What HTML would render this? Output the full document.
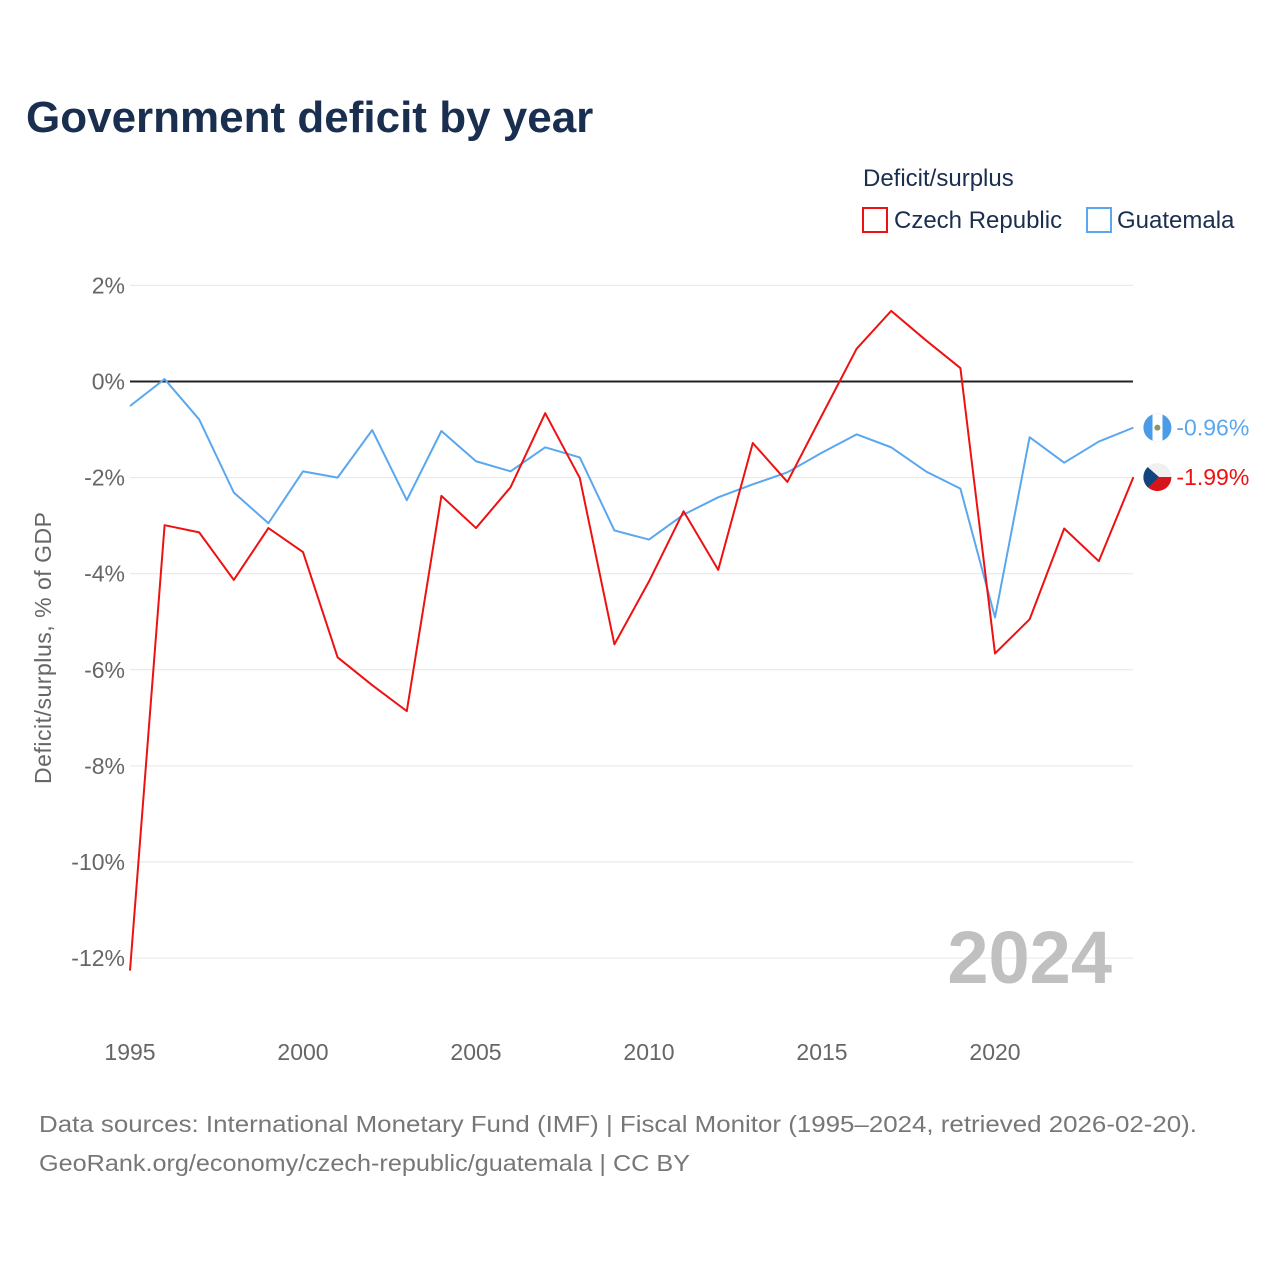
<!DOCTYPE html>
<html><head><meta charset="utf-8"><style>
body{margin:0;background:#fff;font-family:"Liberation Sans",sans-serif;}
#wrap{position:relative;width:1280px;height:1280px;overflow:hidden;}
</style></head><body>
<div id="wrap">
<svg id="chart" width="1280" height="1280">
<defs>
<clipPath id="clipG"><circle cx="1157.4" cy="427.6" r="14"/></clipPath>
<clipPath id="clipC"><circle cx="1157.4" cy="477.1" r="14"/></clipPath>
</defs>
<text x="26" y="132" font-size="44" font-weight="bold" fill="#1a2e4f">Government deficit by year</text>
<text x="863" y="186" font-size="24" fill="#1a2e4f">Deficit/surplus</text>
<g><rect x="863" y="208" width="24" height="24" fill="none" stroke="#ee1111" stroke-width="2"/><text x="894" y="228" font-size="24" fill="#1a2e4f">Czech Republic</text></g>
<g><rect x="1087" y="208" width="24" height="24" fill="none" stroke="#5aa7ee" stroke-width="2"/><text x="1117" y="228" font-size="24" fill="#1a2e4f">Guatemala</text></g>
<g id="grid"></g><g id="yticks"></g><g id="xticks"></g>
<text x="1112" y="983" text-anchor="end" font-size="74" font-weight="bold" fill="#c0c0c0">2024</text>
<text transform="translate(51,648) rotate(-90)" text-anchor="middle" font-size="23" fill="#666" textLength="272">Deficit/surplus, % of GDP</text>
<g id="series"></g>
<g clip-path="url(#clipG)">
<rect x="1143" y="413" width="29" height="29" fill="#4a9be8"/><rect x="1152.5" y="413" width="10" height="29" fill="#fff"/><circle cx="1157.4" cy="427.6" r="3" fill="#8a9a5b"/>
</g>
<g clip-path="url(#clipC)">
<rect x="1143" y="463" width="29" height="14" fill="#f0f0f0"/><rect x="1143" y="477" width="29" height="15" fill="#d7141a"/><polygon points="1143,463 1159,477 1143,492" fill="#11457e"/>
</g>
<text x="39" y="1132" font-size="23" fill="#777" textLength="1158" lengthAdjust="spacingAndGlyphs">Data sources: International Monetary Fund (IMF) | Fiscal Monitor (1995–2024, retrieved 2026-02-20).</text>
<text x="39" y="1171" font-size="23" fill="#777" textLength="651" lengthAdjust="spacingAndGlyphs">GeoRank.org/economy/czech-republic/guatemala | CC BY</text>
</svg>
</div>
<script>
const years=[1995,1996,1997,1998,1999,2000,2001,2002,2003,2004,2005,2006,2007,2008,2009,2010,2011,2012,2013,2014,2015,2016,2017,2018,2019,2020,2021,2022,2023,2024];
const czech=[-12.26,-2.99,-3.14,-4.13,-3.05,-3.55,-5.74,-6.32,-6.86,-2.38,-3.05,-2.2,-0.66,-2.01,-5.47,-4.16,-2.7,-3.92,-1.28,-2.09,-0.7,0.68,1.47,0.86,0.28,-5.66,-4.95,-3.06,-3.74,-1.99];
const guatemala=[-0.51,0.05,-0.79,-2.31,-2.95,-1.87,-2.0,-1.01,-2.47,-1.03,-1.66,-1.87,-1.37,-1.58,-3.1,-3.29,-2.77,-2.41,-2.14,-1.89,-1.48,-1.1,-1.37,-1.87,-2.23,-4.91,-1.16,-1.69,-1.25,-0.96];
const yTicks=[2,0,-2,-4,-6,-8,-10,-12];
const xTicks=[1995,2000,2005,2010,2015,2020];
const NS="http://www.w3.org/2000/svg";
const X=y=>130+(y-1995)*34.6;
const Y=v=>381.5-v*48.05;
function mk(t,a,p){const e=document.createElementNS(NS,t);for(const k in a)e.setAttribute(k,a[k]);p.appendChild(e);return e;}
const grid=document.getElementById('grid'),yt=document.getElementById('yticks'),xt=document.getElementById('xticks'),ser=document.getElementById('series');
yTicks.forEach(v=>{
 const l=mk('line',{x1:130,x2:1133,y1:Y(v),y2:Y(v),stroke:v===0?'#222':'#e6e6e6','stroke-width':v===0?2:1},grid);
 
 
 const t=mk('text',{x:125,y:Y(v)+8,'text-anchor':'end','font-size':23,fill:'#666'},yt);
 t.textContent=v+'%';
 
 
});
xTicks.forEach(y=>{
 const t=mk('text',{x:X(y),y:1060,'text-anchor':'middle','font-size':23,fill:'#666'},xt);
 t.textContent=y;
 
 
});
function line(vals,col,name){
 const p=mk('polyline',{points:vals.map((v,i)=>X(years[i])+','+Y(v)).join(' '),fill:'none',stroke:col,'stroke-width':2,'stroke-linejoin':'round'},ser);
 
 
 const last=vals[vals.length-1],lx=X(years[years.length-1]);
 const t=mk('text',{x:lx+43,y:Y(last)+8,'font-size':23,fill:col},ser);
 t.textContent=last.toFixed(2)+'%';
 
 
}
line(guatemala,'#5aa7ee','guatemala-line');
line(czech,'#ee1111','czech-republic-line');
</script>
</body></html>
